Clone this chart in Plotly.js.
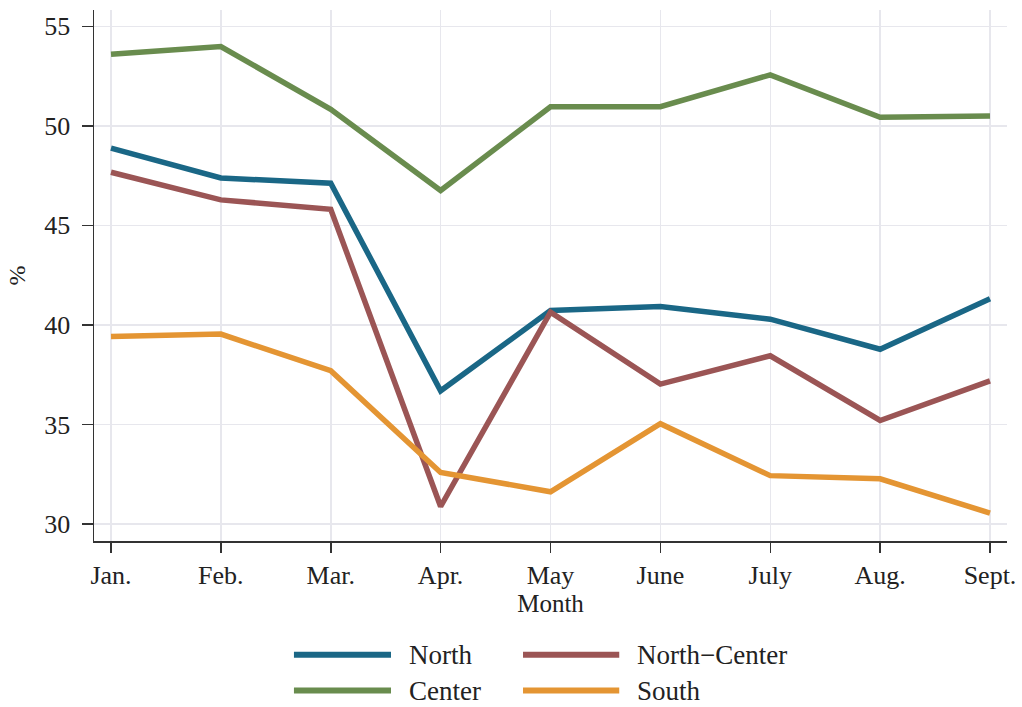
<!DOCTYPE html>
<html>
<head>
<meta charset="utf-8">
<script src="https://cdn.plot.ly/plotly-3.0.1.min.js"></script>
<style>html,body{margin:0;padding:0;background:#fff;}#chart{width:1022px;height:707px;}</style>
</head>
<body>
<div id="chart"></div>
<script>
const months = ["Jan.", "Feb.", "Mar.", "Apr.", "May", "June", "July", "Aug.", "Sept."];
const seriesNames = ["North", "North\u2212Center", "Center", "South"];
const north = [48.88, 47.38, 47.12, 36.69, 40.72, 40.92, 40.29, 38.78, 41.31];
const northCenter = [47.67, 46.28, 45.81, 30.88, 40.64, 37.03, 38.45, 35.20, 37.19];
const center = [53.59, 53.98, 50.83, 46.75, 50.96, 50.96, 52.56, 50.43, 50.50];
const south = [39.42, 39.54, 37.70, 32.59, 31.62, 35.04, 32.43, 32.27, 30.55];
const yTicks = [30, 35, 40, 45, 50, 55];

const colors = {"North": "#1a6786", "North\u2212Center": "#9b5555", "Center": "#698c4e", "South": "#e49533"};
const FONT = "'Liberation Serif', 'Times New Roman', serif";
const values = [north, northCenter, center, south];

const traces = seriesNames.map((n, i) => ({
  type: "scatter", mode: "lines", name: n,
  x: months, y: values[i],
  line: {color: colors[n], width: 5.5},
  showlegend: false, hoverinfo: "x+y+name"
}));
const order = [2, 0, 1, 3];
const data = order.map(i => traces[i]);

const legendPos = [
  {name: "North", col: 0, row: 0},
  {name: "North\u2212Center", col: 1, row: 0},
  {name: "Center", col: 0, row: 1},
  {name: "South", col: 1, row: 1}
];
const colX = [[0.219, 0.3253, 0.3428], [0.4699, 0.5753, 0.5925]];
const rowY = [-0.214, -0.2816];
const shapes = legendPos.map(p => ({
  type: "line", xref: "paper", yref: "paper",
  x0: colX[p.col][0], x1: colX[p.col][1], y0: rowY[p.row], y1: rowY[p.row],
  line: {color: colors[p.name], width: 6}
}));
const annotations = legendPos.map(p => ({
  xref: "paper", yref: "paper", x: colX[p.col][2], y: rowY[p.row],
  xanchor: "left", yanchor: "middle", showarrow: false,
  text: p.name, font: {family: FONT, size: 27, color: "#222"}
}));

const layout = {
  width: 1022, height: 707,
  margin: {l: 94, r: 15, t: 10, b: 166},
  paper_bgcolor: "#fff", plot_bgcolor: "#fff",
  font: {family: FONT, size: 25, color: "#222"},
  xaxis: {
    type: "category", categoryorder: "array", categoryarray: months,
    range: [-0.1547, 8.1547],
    showgrid: true, gridcolor: "#e7e7ed", gridwidth: 1.5,
    showline: true, linecolor: "#333", linewidth: 1.5,
    ticks: "outside", ticklen: 10, tickwidth: 1.5, tickcolor: "#333",
    tickfont: {family: FONT, size: 26, color: "#222"},
    zeroline: false, automargin: false,
    title: {text: "Month", font: {family: FONT, size: 25, color: "#222"}, standoff: 2}
  },
  yaxis: {
    range: [29.147, 55.818],
    tickvals: yTicks, ticktext: yTicks.map(String),
    showgrid: true, gridcolor: "#e7e7ed", gridwidth: 1.5,
    showline: true, linecolor: "#333", linewidth: 1.5,
    ticks: "outside", ticklen: 11, tickwidth: 1.5, tickcolor: "#333",
    ticklabelstandoff: 6,
    tickfont: {family: FONT, size: 26, color: "#222"},
    zeroline: false, automargin: false,
    title: {text: "%", font: {family: FONT, size: 24, color: "#222"}, standoff: 12}
  },
  shapes: shapes,
  annotations: annotations,
  showlegend: false
};

Plotly.newPlot("chart", data, layout, {displayModeBar: false, staticPlot: true});
</script>
</body>
</html>
